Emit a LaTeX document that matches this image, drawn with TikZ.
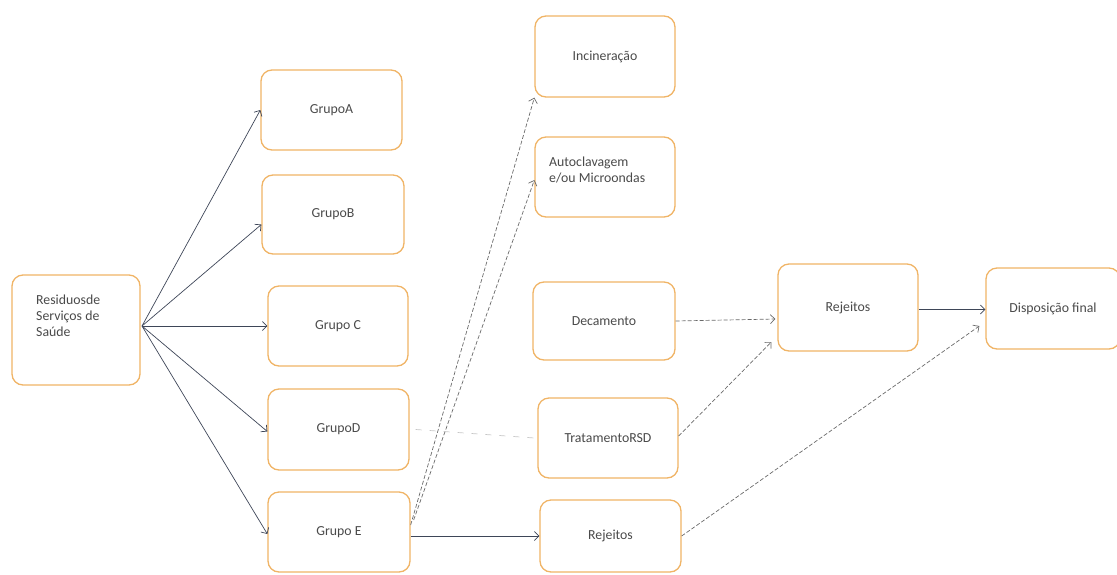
\documentclass[tikz,border=0pt]{standalone}
\usepackage{fontspec}
\setmainfont{Carlito}
\usetikzlibrary{arrows.meta}
\definecolor{boxline}{HTML}{F0B466}
\definecolor{txt}{HTML}{4A4A4A}
\definecolor{link}{HTML}{3E4658}
\definecolor{linkgray}{HTML}{6A6A6A}
\tikzset{
  box/.style={draw=boxline, line width=1.3pt, rounded corners=11pt, fill=white,
    minimum width=#1, inner sep=0pt, text=txt, font=\fontsize{13.8}{16}\selectfont},
  box/.default=141pt,
  lbl/.style={text=txt, font=\fontsize{13.8}{16}\selectfont, inner sep=0pt, align=left},
  tip/.style={-{Straight Barb[length=4.5pt,width=9pt]}},
  flow/.style={tip, draw=link, line width=0.7pt},
  dflow/.style={tip, draw=linkgray, line width=0.7pt, dash pattern=on 4pt off 2pt},
  faint/.style={draw=gray!45, line width=0.7pt, dash pattern=on 6pt off 8pt}
}
\begin{document}
\begin{tikzpicture}[x=1pt,y=-1pt]
\useasboundingbox (0,0) rectangle (1117,574);

% source box
\node[box=128pt, minimum height=110pt] (res) at (76,330) {};
\node[lbl, anchor=north west] (restxt) at (36,295)
  {Residuosde\\Serviços de\\Saúde};

% waste groups
\node[box, minimum height=80pt] (gA) at (331.5,110) {GrupoA};
\node[box=142pt, minimum height=79pt] (gB) at (333,214.5) {GrupoB};
\node[box=140pt, minimum height=80pt] (gC) at (338,326) {Grupo C};
\node[box, minimum height=81pt] (gD) at (338.5,429.5) {GrupoD};
\node[box=142pt, minimum height=80pt] (gE) at (339,532) {Grupo E};

% treatments
\node[box=140pt, minimum height=81pt] (inc) at (605,56.5) {Incineração};
\node[box=140pt, minimum height=80pt] (aut) at (605,177) {};
\node[lbl, anchor=west] (auttxt) at (549,170) {Autoclavagem\\e/ou Microondas};
\node[box=142pt, minimum height=78pt] (dec) at (604,321) {Decamento};
\node[box=140pt, minimum height=80pt] (trat) at (608,438) {TratamentoRSD};
\node[box, minimum height=72pt] (rej1) at (610.5,536) {Rejeitos};

% final stages
\node[box=140pt, minimum height=87pt] (rej2) at (848,307.5) {Rejeitos};
\node[box=134pt, minimum height=81pt] (disp) at (1053,308.5) {Disposição final};

% source to groups (shifts are in page units: positive is up)
\coordinate (hub) at (142,326);
\draw[flow] (hub) -- (gA.west);
\draw[flow] (hub) -- ([yshift=-10pt]gB.west);
\draw[flow] (hub) -- (gC.west);
\draw[flow] (hub) -- ([yshift=-2pt]gD.west);
\draw[flow] (hub) -- ([yshift=-2pt]gE.west);

% group E to treatments
\draw[dflow] ([yshift=7pt]gE.east) -- (inc.south west);
\draw[dflow] ([xshift=3pt,yshift=12pt]gE.east) -- ([yshift=-3pt]aut.west);
\draw[flow] ([yshift=-4pt]gE.east) -- ([yshift=-4pt]gE.east -| rej1.west);

% group D to treatment
\draw[faint] ([xshift=6pt]gD.east) -- ([xshift=-3pt]trat.west);

% treatments to rejects
\draw[dflow] (dec.east) -- ([xshift=-2pt,yshift=-11.5pt]rej2.west);
\draw[dflow] ([yshift=2pt]trat.east) -- ([xshift=-6pt,yshift=-34.5pt]rej2.west);
\draw[dflow] (rej1.east) -- ([xshift=-6pt,yshift=-17.5pt]disp.west);
\draw[flow] ([yshift=-2pt]rej2.east) -- ([yshift=-1pt]disp.west);
\end{tikzpicture}
\end{document}
